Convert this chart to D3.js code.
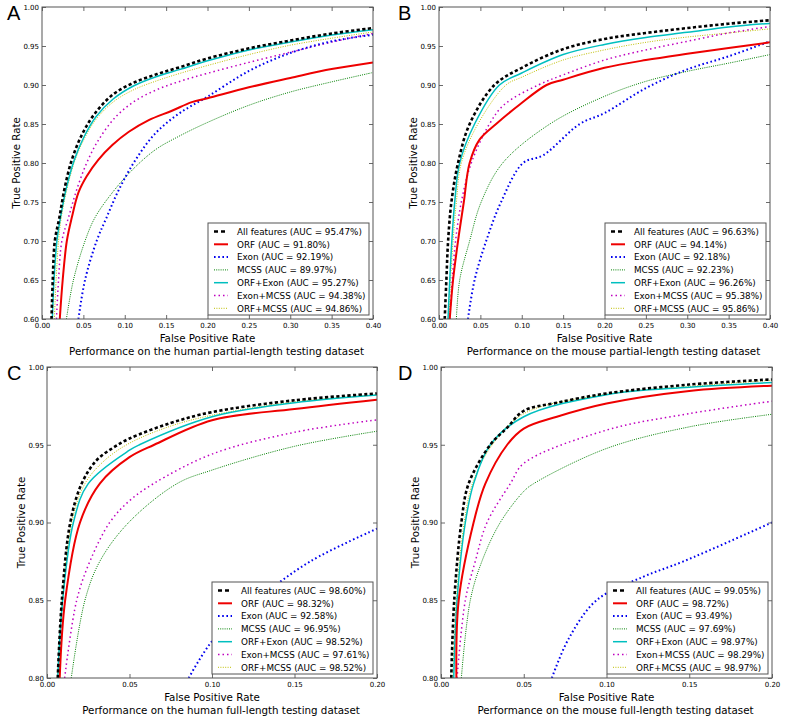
<!DOCTYPE html>
<html lang="en">
<head>
<meta charset="UTF-8">
<title>ROC curves</title>
<script src="https://d3js.org/d3.v7.min.js"></script>
<style>
  body { margin: 0; background: #fff; }
  text { font-family: "DejaVu Sans", sans-serif; fill: #000; }
  .axis-label { font-size: 10.3px; }
  .legend text { font-size: 8.8px; }
  .panel-letter { font-family: "Liberation Sans", Arial, sans-serif; font-size: 20px; }
</style>
</head>
<body>
<svg width="787" height="721"></svg>
<script>
// series shared by all panels
const seriesNames = ["All features", "ORF", "Exon", "MCSS", "ORF+Exon", "Exon+MCSS", "ORF+MCSS"];

const titles = [
  "Performance on the human partial-length testing dataset",
  "Performance on the mouse partial-length testing dataset",
  "Performance on the human full-length testing dataset",
  "Performance on the mouse full-length testing dataset"
];

const aucA = [95.47, 91.80, 92.19, 89.97, 95.27, 94.38, 94.86];
const aucB = [96.63, 94.14, 92.18, 92.23, 96.26, 95.38, 95.86];
const aucC = [98.60, 98.32, 92.58, 96.95, 98.52, 97.61, 98.52];
const aucD = [99.05, 98.72, 93.49, 97.69, 98.97, 98.29, 98.97];

const xTicksPartial = [0, 0.05, 0.10, 0.15, 0.20, 0.25, 0.30, 0.35, 0.40];
const yTicksPartial = [0.60, 0.65, 0.70, 0.75, 0.80, 0.85, 0.90, 0.95, 1.00];
const xTicksFull = [0, 0.05, 0.10, 0.15, 0.20];
const yTicksFull = [0.80, 0.85, 0.90, 0.95, 1.00];

// ROC points [fpr, tpr]; order follows seriesNames
const rocA = [
  [[0.0115,0.60],[0.013,0.65],[0.0155,0.70],[0.021,0.73],[0.027,0.766],[0.036,0.804],[0.049,0.838],[0.065,0.865],[0.086,0.888],[0.111,0.903],[0.139,0.914],[0.167,0.923],[0.20,0.934],[0.25,0.947],[0.30,0.957],[0.35,0.966],[0.40,0.973]],
  [[0.0215,0.60],[0.025,0.65],[0.030,0.70],[0.036,0.730],[0.044,0.762],[0.054,0.783],[0.068,0.804],[0.085,0.823],[0.105,0.840],[0.129,0.855],[0.157,0.867],[0.181,0.878],[0.20,0.883],[0.25,0.897],[0.30,0.909],[0.35,0.9205],[0.40,0.929]],
  [[0.044,0.60],[0.052,0.65],[0.066,0.70],[0.078,0.730],[0.093,0.766],[0.113,0.804],[0.137,0.838],[0.165,0.863],[0.20,0.885],[0.25,0.918],[0.30,0.941],[0.35,0.956],[0.40,0.9645]],
  [[0.0295,0.60],[0.038,0.65],[0.052,0.70],[0.064,0.730],[0.085,0.762],[0.109,0.791],[0.137,0.817],[0.165,0.834],[0.20,0.852],[0.25,0.874],[0.30,0.891],[0.35,0.904],[0.40,0.916]],
  [[0.0125,0.60],[0.0145,0.65],[0.018,0.70],[0.022,0.728],[0.029,0.766],[0.039,0.804],[0.051,0.834],[0.065,0.859],[0.086,0.882],[0.111,0.899],[0.139,0.911],[0.167,0.920],[0.20,0.931],[0.25,0.945],[0.30,0.955],[0.35,0.964],[0.40,0.971]],
  [[0.0175,0.60],[0.020,0.65],[0.024,0.70],[0.032,0.730],[0.042,0.766],[0.054,0.80],[0.068,0.829],[0.089,0.859],[0.113,0.880],[0.141,0.895],[0.169,0.9055],[0.20,0.915],[0.25,0.929],[0.30,0.942],[0.35,0.955],[0.40,0.966]],
  [[0.015,0.60],[0.017,0.65],[0.020,0.70],[0.023,0.728],[0.030,0.766],[0.040,0.804],[0.052,0.833],[0.066,0.857],[0.087,0.879],[0.111,0.894],[0.139,0.9055],[0.167,0.915],[0.20,0.925],[0.25,0.939],[0.30,0.951],[0.35,0.960],[0.40,0.968]]
];
const rocB = [
  [[0.0069,0.60],[0.0089,0.65],[0.011,0.70],[0.015,0.75],[0.023,0.80],[0.037,0.85],[0.067,0.90],[0.10,0.922],[0.15,0.946],[0.20,0.959],[0.25,0.9667],[0.30,0.973],[0.35,0.9786],[0.40,0.983]],
  [[0.013,0.60],[0.017,0.65],[0.023,0.70],[0.030,0.75],[0.037,0.80],[0.049,0.83],[0.069,0.85],[0.0976,0.875],[0.130,0.90],[0.15,0.9068],[0.20,0.922],[0.25,0.932],[0.30,0.940],[0.35,0.9474],[0.40,0.9547]],
  [[0.035,0.60],[0.043,0.65],[0.057,0.70],[0.075,0.75],[0.1016,0.80],[0.126,0.81],[0.170,0.85],[0.20,0.864],[0.25,0.896],[0.30,0.920],[0.35,0.9368],[0.40,0.956]],
  [[0.021,0.60],[0.025,0.65],[0.037,0.70],[0.051,0.75],[0.077,0.80],[0.134,0.85],[0.20,0.8855],[0.25,0.9047],[0.30,0.9175],[0.35,0.928],[0.40,0.939]],
  [[0.0109,0.60],[0.013,0.65],[0.0155,0.70],[0.019,0.75],[0.025,0.80],[0.043,0.85],[0.073,0.90],[0.10,0.9154],[0.15,0.939],[0.20,0.952],[0.25,0.961],[0.30,0.9675],[0.35,0.9744],[0.40,0.979]],
  [[0.013,0.60],[0.016,0.65],[0.020,0.70],[0.027,0.75],[0.039,0.80],[0.061,0.85],[0.079,0.875],[0.120,0.90],[0.15,0.913],[0.20,0.932],[0.25,0.945],[0.30,0.956],[0.35,0.9667],[0.40,0.975]],
  [[0.012,0.60],[0.014,0.65],[0.017,0.70],[0.021,0.75],[0.027,0.80],[0.047,0.85],[0.081,0.90],[0.10,0.910],[0.15,0.932],[0.20,0.945],[0.25,0.9547],[0.30,0.9615],[0.35,0.9667],[0.40,0.972]]
];
const rocC = [
  [[0.0065,0.80],[0.009,0.85],[0.0141,0.90],[0.021,0.925],[0.030,0.94],[0.040,0.948],[0.05,0.954],[0.075,0.964],[0.10,0.971],[0.15,0.9786],[0.20,0.983]],
  [[0.0077,0.80],[0.011,0.85],[0.020,0.90],[0.032,0.925],[0.05,0.942],[0.065,0.95],[0.10,0.9658],[0.15,0.973],[0.20,0.979]],
  [[0.0859,0.80],[0.101,0.825],[0.127,0.85],[0.1596,0.875],[0.20,0.896]],
  [[0.0147,0.80],[0.023,0.85],[0.032,0.875],[0.0495,0.90],[0.0788,0.925],[0.10,0.9337],[0.15,0.949],[0.20,0.9587]],
  [[0.0065,0.80],[0.0095,0.85],[0.016,0.90],[0.025,0.925],[0.05,0.9465],[0.056,0.95],[0.10,0.968],[0.15,0.977],[0.20,0.982]],
  [[0.0107,0.80],[0.018,0.85],[0.026,0.875],[0.038,0.90],[0.05,0.914],[0.0646,0.925],[0.10,0.944],[0.15,0.958],[0.20,0.966]],
  [[0.0065,0.80],[0.0092,0.85],[0.015,0.90],[0.023,0.925],[0.035,0.94],[0.05,0.951],[0.075,0.962],[0.10,0.969],[0.15,0.9776],[0.20,0.982]]
];
const rocD = [
  [[0.0062,0.80],[0.008,0.85],[0.0123,0.90],[0.0167,0.925],[0.0298,0.95],[0.040,0.961],[0.05,0.9718],[0.07,0.977],[0.10,0.983],[0.15,0.9887],[0.20,0.992]],
  [[0.0093,0.80],[0.0107,0.85],[0.0197,0.90],[0.0268,0.925],[0.040,0.95],[0.05,0.9604],[0.07,0.968],[0.10,0.9765],[0.15,0.9846],[0.20,0.988]],
  [[0.067,0.80],[0.077,0.825],[0.094,0.85],[0.122,0.865],[0.1465,0.875],[0.20,0.900]],
  [[0.0123,0.80],[0.0177,0.85],[0.0247,0.875],[0.0358,0.90],[0.05,0.920],[0.056,0.925],[0.10,0.9476],[0.15,0.9615],[0.20,0.9696]],
  [[0.0077,0.80],[0.0097,0.85],[0.0147,0.90],[0.0197,0.925],[0.0298,0.95],[0.05,0.968],[0.10,0.9822],[0.15,0.987],[0.20,0.990]],
  [[0.0097,0.80],[0.0147,0.85],[0.0207,0.875],[0.0278,0.90],[0.0419,0.925],[0.05,0.938],[0.10,0.9594],[0.15,0.970],[0.20,0.978]],
  [[0.0072,0.80],[0.0092,0.85],[0.014,0.90],[0.019,0.925],[0.031,0.95],[0.05,0.970],[0.10,0.9825],[0.15,0.9875],[0.20,0.9915]]
];

// matplotlib-like styles
const styles = [
  { color: "#000000", width: 2.6, dash: "3.2,2.4" },
  { color: "#ee0000", width: 2,   dash: null },
  { color: "#0000ee", width: 2,   dash: "1.6,2.6" },
  { color: "#008000", width: 1,   dash: "1,1.2" },
  { color: "#00bfbf", width: 1.5, dash: null },
  { color: "#bf00bf", width: 1.5, dash: "1.5,3" },
  { color: "#bfbf00", width: 1,   dash: "1,1.4" }
];

const svg = d3.select("svg");

const panels = [
  { letter: "A", left: 42,  top: 7,   right: 373, bottom: 319, xMax: 0.4, yMin: 0.6, xt: xTicksPartial, yt: yTicksPartial, roc: rocA, auc: aucA, title: titles[0], lx: 7 },
  { letter: "B", left: 439, top: 7,   right: 770, bottom: 319, xMax: 0.4, yMin: 0.6, xt: xTicksPartial, yt: yTicksPartial, roc: rocB, auc: aucB, title: titles[1], lx: 398 },
  { letter: "C", left: 47,  top: 367, right: 377, bottom: 678, xMax: 0.2, yMin: 0.8, xt: xTicksFull, yt: yTicksFull, roc: rocC, auc: aucC, title: titles[2], lx: 7 },
  { letter: "D", left: 441, top: 367, right: 772, bottom: 678, xMax: 0.2, yMin: 0.8, xt: xTicksFull, yt: yTicksFull, roc: rocD, auc: aucD, title: titles[3], lx: 398 }
];

panels.forEach((p, pi) => {
  const x = d3.scaleLinear().domain([0, p.xMax]).range([p.left, p.right]);
  const y = d3.scaleLinear().domain([p.yMin, 1]).range([p.bottom, p.top]);
  const g = svg.append("g");

  const clipId = "clip" + pi;
  svg.append("clipPath").attr("id", clipId)
    .append("rect")
    .attr("x", p.left).attr("y", p.top)
    .attr("width", p.right - p.left).attr("height", p.bottom - p.top);

  // curves
  const lineGen = d3.line().x(d => x(d[0])).y(d => y(d[1])).curve(d3.curveCatmullRom.alpha(0.5));
  const curves = g.append("g").attr("clip-path", `url(#${clipId})`);
  // draw in reverse so "All features" ends on top
  d3.range(p.roc.length).reverse().forEach(i => {
    curves.append("path")
      .attr("d", lineGen(p.roc[i]))
      .attr("fill", "none")
      .attr("stroke", styles[i].color)
      .attr("stroke-width", styles[i].width)
      .attr("stroke-dasharray", styles[i].dash);
  });

  // ticks inside on all four sides
  const tickLen = 4;
  const axisBottom = d3.axisBottom(x).tickValues(p.xt).tickSizeInner(-tickLen).tickSizeOuter(0).tickFormat(d3.format(".2f")).tickPadding(4);
  const axisTop = d3.axisTop(x).tickValues(p.xt).tickSizeInner(-tickLen).tickSizeOuter(0).tickFormat("");
  const axisLeft = d3.axisLeft(y).tickValues(p.yt).tickSizeInner(-tickLen).tickSizeOuter(0).tickFormat(d3.format(".2f")).tickPadding(3);
  const axisRight = d3.axisRight(y).tickValues(p.yt).tickSizeInner(-tickLen).tickSizeOuter(0).tickFormat("");

  [[axisBottom, `translate(0,${p.bottom})`], [axisTop, `translate(0,${p.top})`],
   [axisLeft, `translate(${p.left},0)`], [axisRight, `translate(${p.right},0)`]].forEach(([ax, tr]) => {
    const a = g.append("g").attr("transform", tr).call(ax);
    a.select(".domain").remove();
    a.selectAll("line").attr("stroke", "#444").attr("stroke-width", 0.8);
    a.selectAll("text").attr("font-family", "DejaVu Sans").attr("font-size", 7).attr("fill", "#000");
  });

  // frame
  g.append("rect")
    .attr("x", p.left).attr("y", p.top)
    .attr("width", p.right - p.left).attr("height", p.bottom - p.top)
    .attr("fill", "none").attr("stroke", "#555").attr("stroke-width", 1);

  // axis labels
  const cx = (p.left + p.right) / 2;
  g.append("text").attr("class", "axis-label")
    .attr("x", cx).attr("y", p.bottom + 23)
    .attr("text-anchor", "middle").text("False Positive Rate");
  g.append("text").attr("class", "axis-label")
    .attr("x", cx + 9).attr("y", p.bottom + 36)
    .attr("text-anchor", "middle").text(p.title);
  g.append("text").attr("class", "axis-label")
    .attr("transform", `translate(${p.left - 22},${(p.top + p.bottom) / 2}) rotate(-90)`)
    .attr("text-anchor", "middle").text("True Positive Rate");

  // panel letter
  g.append("text").attr("class", "panel-letter")
    .attr("x", p.lx).attr("y", p.top + 13).text(p.letter);

  // legend
  const lw = 161, lh = 92;
  const lx = p.right - 4 - lw, ly = p.bottom - 4 - lh;
  const lg = g.append("g").attr("class", "legend");
  lg.append("rect").attr("x", lx).attr("y", ly).attr("width", lw).attr("height", lh)
    .attr("fill", "#fff").attr("stroke", "#555").attr("stroke-width", 1);
  seriesNames.forEach((name, i) => {
    const ry = ly + 8.5 + i * 12.8;
    lg.append("line")
      .attr("x1", lx + 6).attr("x2", lx + 20).attr("y1", ry).attr("y2", ry)
      .attr("stroke", styles[i].color)
      .attr("stroke-width", styles[i].width)
      .attr("stroke-dasharray", i === 0 ? "4,3" : styles[i].dash);
    lg.append("text").attr("x", lx + 29).attr("y", ry + 3.2)
      .text(`${name} (AUC = ${p.auc[i].toFixed(2)}%)`);
  });
});
</script>
</body>
</html>
